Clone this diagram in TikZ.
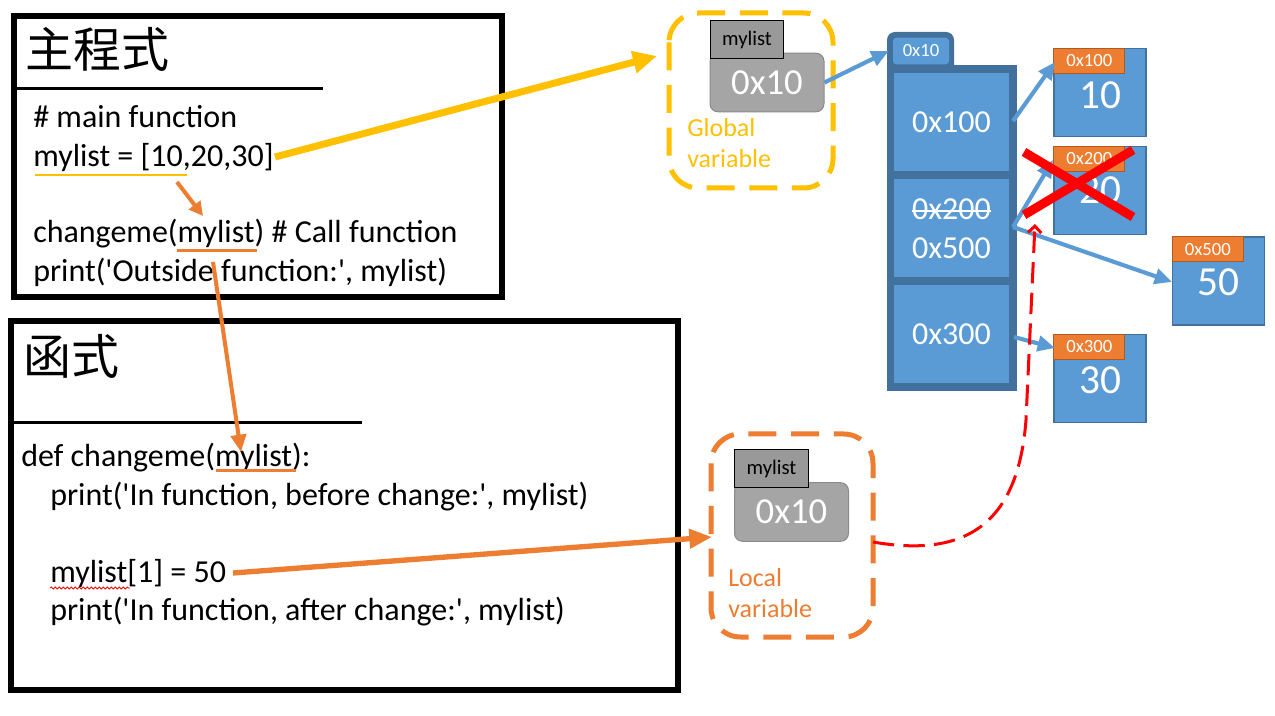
\documentclass[tikz,border=0pt]{standalone}
\usepackage{fontspec}
\setmainfont{Carlito}[Ligatures=TeXOff]
\newfontfamily\cjk{Noto Sans CJK TC}
\usetikzlibrary{arrows.meta,decorations.pathmorphing}
\definecolor{ylw}{HTML}{FFC000}
\definecolor{org}{HTML}{ED7D31}
\definecolor{orgdk}{HTML}{AE5A21}
\definecolor{blu}{HTML}{5B9BD5}
\definecolor{dkb}{HTML}{41719C}
\definecolor{gry}{HTML}{A5A5A5}
\definecolor{grydk}{HTML}{8A8A8A}
\definecolor{rd}{HTML}{FF0000}
\begin{document}
\begin{tikzpicture}[x=0.75pt,y=-0.75pt,
  code/.style={anchor=base west, inner sep=0pt, font=\fontsize{24pt}{28pt}\selectfont},
  ttl/.style={anchor=base west, inner sep=0pt, font=\cjk\fontsize{36pt}{40pt}\selectfont},
  frame/.style={draw=black, line width=4.5pt},
  rulel/.style={line width=2.25pt},
  varlbl/.style={anchor=base west, inner sep=0pt, font=\fontsize{19.5pt}{23pt}\selectfont},
  dashbox/.style={line width=3.75pt, dash pattern=on 21pt off 11pt, rounded corners=22pt},
  graybox/.style={fill=gry, draw=grydk, line width=0.75pt, rounded corners=6pt, text=white, inner sep=0pt, minimum width=85.5pt, minimum height=44pt, font=\fontsize{27.5pt}{30pt}\selectfont},
  namebox/.style={draw=black, line width=0.75pt, top color=gray!80, bottom color=gray!120!black, inner sep=0pt, minimum width=55pt, minimum height=28.5pt, font=\fontsize{15.5pt}{18pt}\selectfont},
  cellbox/.style={fill=blu, text=white, inner sep=0pt, minimum width=86.25pt, minimum height=73.5pt, font=\fontsize{24pt}{28pt}\selectfont},
  celltxt/.style={text=white, inner sep=0pt, font=\fontsize{24pt}{28pt}\selectfont},
  databox/.style={fill=blu, draw=dkb, line width=0.9pt, inner sep=0pt, minimum width=69pt, minimum height=66pt},
  addrlbl/.style={fill=org, draw=orgdk, line width=0.75pt, text=white, inner sep=0pt, minimum width=53.25pt, minimum height=18.5pt, anchor=north west, font=\fontsize{14pt}{16pt}\selectfont},
  valtxt/.style={text=white, inner sep=0pt, font=\fontsize{31pt}{34pt}\selectfont},
  bluarrow/.style={draw=blu, line width=3.1pt, -{Triangle[length=13pt,width=11.5pt]}},
  ularrow/.style={line width=3pt, -{Triangle[length=10.5pt,width=10.5pt]}},
]
\fill[white] (0,0) rectangle (1275,716);
\useasboundingbox (0,0) rectangle (1275,716);

% ---------- main program box ----------
\draw[frame] (14,16) rectangle (502,297);
\node[ttl] (ttlmain) at (25,68) {主程式};
\draw[rulel] (15,89) -- (323,89);
\node[code] (m1) at (33,128) {\# main function};
\node[code] (m2) at (33,167) {mylist = [10,20,30]};
\node[code] (m3) at (33,243) {changeme(mylist) \# Call function};
\node[code] (m4) at (33,282) {print('Outside function:', mylist)};
\draw[ylw, line width=1.5pt] (35,175) -- (187,175);
\draw[org, line width=2.25pt] (177,251) -- (257,251);

% ---------- function box ----------
\draw[frame] (11,321) rectangle (678,690);
\node[ttl] (ttlfunc) at (23,375) {函式};
\draw[rulel] (12,423) -- (362,423);
\node[code] (f1) at (21,467) {def changeme(mylist):};
\node[code] (f2) at (50,505) {print('In function, before change:', mylist)};
\node[code] (f3) at (50,582) {mylist[1] = 50};
\node[code] (f4) at (50,620) {print('In function, after change:', mylist)};
\draw[org, line width=2.25pt] (216,471) -- (296,471);
\draw[rd, line width=0.6pt, decorate, decoration={snake, amplitude=0.8pt, segment length=3pt}] (50,588) -- (130,588);

% ---------- global variable ----------
\draw[dashbox, ylw] (669,13) rectangle (833,188);
\node[graybox] (gval) at (767,82.5) {0x10};
\node[namebox] (gname) at (747,40) {mylist};
\node[varlbl, text=ylw] (glob1) at (687,137) {Global};
\node[varlbl, text=ylw] (glob2) at (687,168) {variable};

% ---------- local variable ----------
\draw[dashbox, org] (711,434) rectangle (873,637);
\node[graybox] (lval) at (791.5,512) {0x10};
\node[namebox] (lname) at (771.5,469) {mylist};
\node[varlbl, text=org] (loc1) at (728,586) {Local};
\node[varlbl, text=org] (loc2) at (728,617) {variable};

% ---------- list object ----------
\fill[dkb, rounded corners=6pt] (887,90) -- (887,32) -- (954,32) -- (954,90) -- cycle;
\fill[dkb] (887,65) rectangle (1017,391);
\node[fill=blu, rounded corners=2.5pt, inner sep=0pt, minimum width=42pt, minimum height=20pt, text=white, font=\fontsize{14pt}{16pt}\selectfont] (tab) at (921,51) {0x10};
\node[cellbox] (c1) at (951.5,122) {0x100};
\node[cellbox] (c2) at (951.5,228) {};
\node[cellbox] (c3) at (951.5,334) {0x300};
\node[celltxt] (s200) at (951.5,209) {0x200};
\draw[white, line width=1.5pt] ([yshift=-1.5pt]s200.west) -- ([yshift=-1.5pt]s200.east);
\node[celltxt] (s500) at (951.5,248) {0x500};

% ---------- data objects ----------
\node[databox] (d1) at (1100,92.5) {};
\node[addrlbl] (a1) at (d1.north west) {0x100};
\node[valtxt] (v1) at (1100,95) {10};
\node[databox] (d2) at (1100,190.5) {};
\node[addrlbl] (a2) at (d2.north west) {0x200};
\node[valtxt] (v2) at (1100,190) {20};
\node[databox] (d5) at (1218.5,281) {};
\node[addrlbl] (a5) at (d5.north west) {0x500};
\node[valtxt] (v5) at (1218.5,282) {50};
\node[databox] (d3) at (1100,378.5) {};
\node[addrlbl] (a3) at (d3.north west) {0x300};
\node[valtxt] (v3) at (1100,380) {30};

% ---------- pointer arrows ----------
\coordinate (p1s) at (1013,121);
\coordinate (p1e) at (1055,62);
\coordinate (p2s) at (1013,227);
\coordinate (p2e) at (1053,160);
\coordinate (p5e) at (1172,282);
\coordinate (p3s) at (1014,337);
\coordinate (p3e) at (1055,348);
\draw[bluarrow] (gval.east) -- ([xshift=-3pt]tab.west);
\draw[bluarrow] (p1s) -- (p1e);
\draw[bluarrow] (p2s) -- (p2e);
\draw[bluarrow] (p2s) -- (p5e);
\draw[bluarrow] (p3s) -- (p3e);

% red cross
\draw[rd, line width=6.75pt] (1024,152) -- (1133,217);
\draw[rd, line width=6.75pt] (1133,150) -- (1024,215);

% red dashed pointer from local variable
\coordinate (rS) at (873,542);
\coordinate (rE) at (1035,224);
\draw[rd, line width=2.25pt, dash pattern=on 16pt off 7pt, -{Straight Barb[length=5pt,width=10pt]}] (rS) .. controls (965,558) and (1018,525) .. (1026,420) -- (rE);

% ---------- code arrows ----------
\coordinate (yS) at (275,157);
\coordinate (yE) at (657,56);
\draw[ylw, line width=5.25pt, -{Triangle[length=18pt,width=16pt]}] (yS) -- (yE);
\coordinate (oS1) at (177,182);
\coordinate (oE1) at (203,216);
\draw[org, ularrow] (oS1) -- (oE1);
\coordinate (oS2) at (213,262);
\coordinate (oE2) at (241,452);
\draw[org, line width=3pt, -{Triangle[length=13pt,width=11.5pt]}] (oS2) -- (oE2);
\coordinate (oS3) at (233,573);
\coordinate (oE3) at (712,537);
\draw[org, line width=4pt, -{Triangle[length=17pt,width=14pt]}] (oS3) -- (oE3);
\end{tikzpicture}
\end{document}
